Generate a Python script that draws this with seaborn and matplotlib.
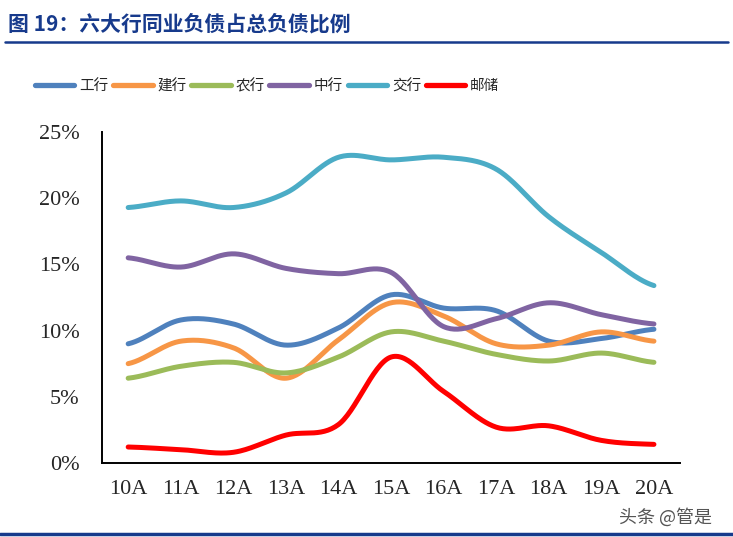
import numpy as np
import pandas as pd
import matplotlib
matplotlib.use("Agg")
import matplotlib.pyplot as plt
import seaborn as sns

years = ["10A", "11A", "12A", "13A", "14A", "15A", "16A", "17A", "18A", "19A", "20A"]
banks = ["工行", "建行", "农行", "中行", "交行", "邮储"]
icbc = [9.0, 10.8, 10.5, 8.9, 10.2, 12.7, 11.7, 11.5, 9.2, 9.4, 10.1]
ccb = [7.5, 9.2, 8.7, 6.4, 9.3, 12.1, 11.1, 9.0, 8.9, 9.9, 9.2]
abc = [6.4, 7.3, 7.6, 6.8, 8.0, 9.9, 9.2, 8.2, 7.7, 8.3, 7.6]
boc = [15.5, 14.8, 15.8, 14.7, 14.3, 14.4, 10.3, 10.9, 12.1, 11.2, 10.5]
bocom = [19.3, 19.8, 19.3, 20.4, 23.1, 22.9, 23.1, 22.2, 18.6, 15.9, 13.4]
psbc = [1.2, 1.0, 0.8, 2.1, 2.9, 8.0, 5.4, 2.7, 2.8, 1.7, 1.4]
colors = ["#4F81BD", "#F79646", "#9BBB59", "#8064A2", "#4BACC6", "#FF0000"]
navy = "#173A8C"


def smooth(y, n=30):
    # excel-style smoothed line (catmull-rom through the points)
    y = np.asarray(y, dtype=float)
    p = np.concatenate([[y[0]], y, [y[-1]]])
    xs, ys = [], []
    t = np.linspace(0, 1, n, endpoint=False)
    for i in range(len(y) - 1):
        p0, p1, p2, p3 = p[i], p[i + 1], p[i + 2], p[i + 3]
        seg = 0.5 * ((2 * p1) + (-p0 + p2) * t + (2 * p0 - 5 * p1 + 4 * p2 - p3) * t ** 2
                     + (-p0 + 3 * p1 - 3 * p2 + p3) * t ** 3)
        xs.extend(i + t)
        ys.extend(seg)
    xs.append(len(y) - 1)
    ys.append(y[-1])
    return np.array(xs), np.array(ys)


rows = []
for name, vals in zip(banks, [icbc, ccb, abc, boc, bocom, psbc]):
    xs, ys = smooth(vals)
    rows.append(pd.DataFrame({"x": xs, "val": ys, "bank": name}))
df = pd.concat(rows, ignore_index=True)

sns.set_style("white")
plt.rcParams["font.family"] = ["Liberation Serif", "Noto Sans CJK SC"]

fig = plt.figure(figsize=(7.33, 5.37), dpi=100)
ax = fig.add_axes([0.139, 0.138, 0.789, 0.616])
sns.lineplot(data=df, x="x", y="val", hue="bank", hue_order=banks,
             palette=dict(zip(banks, colors)), sort=False, estimator=None,
             linewidth=3.6, ax=ax, solid_capstyle="round")

handles, labels = ax.get_legend_handles_labels()
ax.get_legend().remove()
for h in handles:
    h.set_linewidth(3.8)
    h.set_solid_capstyle("round")
fig.legend(handles, labels, loc="center left", bbox_to_anchor=(0.03, 0.84),
           ncol=6, frameon=False, handlelength=2.7, handletextpad=0.35,
           columnspacing=0.3, prop={"family": "Noto Sans CJK SC", "size": 10.5})

ax.set_xlim(-0.5, 10.5)
ax.set_ylim(0, 25)
ax.set_xticks(range(len(years)))
ax.set_xticklabels(years)
ax.set_yticks([0, 5, 10, 15, 20, 25])
ax.set_yticklabels([f"{v}%" for v in [0, 5, 10, 15, 20, 25]])
ax.tick_params(axis="both", labelsize=16, length=0, pad=12)
ax.tick_params(axis="y", pad=16)
ax.set_xlabel("")
ax.set_ylabel("")
for s in ["top", "right"]:
    ax.spines[s].set_visible(False)
for s in ["left", "bottom"]:
    ax.spines[s].set_color("black")
    ax.spines[s].set_linewidth(1.4)

fig.text(0.011, 0.955, "图 19：六大行同业负债占总负债比例", color=navy,
         fontsize=15, fontweight="bold", va="center", family=["Noto Sans CJK SC"])
fig.add_artist(plt.Line2D([0.007, 0.993], [0.922, 0.922], color=navy, linewidth=1.8))
fig.add_artist(plt.Line2D([0.0, 1.0], [0.005, 0.005], color=navy, linewidth=2.5))
fig.text(0.845, 0.037, "头条 @管是", color="#555555", fontsize=13, va="center",
         family=["Noto Sans CJK SC"])

fig.savefig("out.png", dpi=100)
